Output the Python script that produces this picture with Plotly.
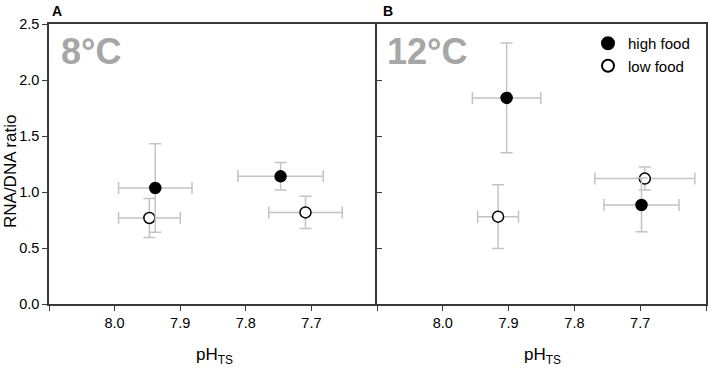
import plotly.graph_objects as go

# Panel A (8°C)
ph_A_high = [7.938, 7.747]
rd_A_high = [1.036, 1.14]
ey_A_high = [0.395, 0.123]
ex_A_high = [0.056, 0.065]

ph_A_low = [7.947, 7.709]
rd_A_low = [0.768, 0.818]
ey_A_low = [0.175, 0.145]
ex_A_low = [0.047, 0.056]

# Panel B (12°C)
ph_B_high = [7.903, 7.698]
rd_B_high = [1.84, 0.884]
ey_B_high = [0.49, 0.24]
ex_B_high = [0.052, 0.057]

ph_B_low = [7.916, 7.693]
rd_B_low = [0.78, 1.12]
ey_B_low = [0.285, 0.103]
ex_B_low = [0.031, 0.076]

x_tickvals = [8.1, 8.0, 7.9, 7.8, 7.7, 7.6]
x_ticktext = ["", "8.0", "7.9", "7.8", "7.7", ""]
y_tickvals = [0.0, 0.5, 1.0, 1.5, 2.0, 2.5]
y_ticktext = ["0.0", "0.5", "1.0", "1.5", "2.0", "2.5"]

FONT = "Liberation Sans, Arial, sans-serif"
ERRC = "#c4c4c4"
FRAME = "#3a3a3a"

L, R, T, B = 49, 4, 24, 64
W, H = 710, 368
PW, PH = W - L - R, H - T - B
SPLIT = 328 / PW


def px(x):
    return (x - L) / PW


def py(y):
    return (H - B - y) / PH


def err(arr):
    return dict(type="data", array=arr, visible=True, color=ERRC, thickness=1.5, width=6)


fig = go.Figure()


def add(ph, rd, ex, ey, filled, xa, ya, name, show):
    fig.add_trace(go.Scatter(
        x=ph, y=rd, mode="markers", name=name, showlegend=show,
        xaxis=xa, yaxis=ya,
        error_x=err(ex), error_y=err(ey),
        marker=dict(size=11, symbol="circle",
                    color="black" if filled else "white",
                    line=dict(color="black", width=1.5)),
    ))


add(ph_A_low, rd_A_low, ex_A_low, ey_A_low, False, "x", "y", "low food", False)
add(ph_A_high, rd_A_high, ex_A_high, ey_A_high, True, "x", "y", "high food", False)
add(ph_B_low, rd_B_low, ex_B_low, ey_B_low, False, "x2", "y2", "low food", True)
add(ph_B_high, rd_B_high, ex_B_high, ey_B_high, True, "x2", "y2", "high food", True)

xcommon = dict(range=[8.1, 7.6], tickmode="array", tickvals=x_tickvals, ticktext=x_ticktext,
               ticks="outside", ticklen=5, tickwidth=1.2, tickcolor=FRAME, showline=True,
               linecolor=FRAME, linewidth=1.5, mirror=True, showgrid=False, zeroline=False,
               automargin=False,
               tickfont=dict(size=14.5, color="black", family=FONT))
ycommon = dict(range=[0, 2.5], tickmode="array", tickvals=y_tickvals, ticktext=y_ticktext,
               ticklen=5, tickwidth=1.2, tickcolor=FRAME, showline=True, linecolor=FRAME,
               linewidth=1.5, showgrid=False, zeroline=False, automargin=False,
               tickfont=dict(size=14.5, color="black", family=FONT))

ann = [
    dict(text="8°C", x=px(59), y=py(51), xanchor="left", yanchor="middle",
         font=dict(size=36, color="#a6a6a6", family=FONT, weight="bold")),
    dict(text="12°C", x=px(385), y=py(51), xanchor="left", yanchor="middle",
         font=dict(size=36, color="#a6a6a6", family=FONT, weight="bold")),
    dict(text="A", x=px(56.5), y=py(11), xanchor="center", yanchor="middle",
         font=dict(size=14, color="black", family=FONT, weight="bold")),
    dict(text="B", x=px(388), y=py(11), xanchor="center", yanchor="middle",
         font=dict(size=14, color="black", family=FONT, weight="bold")),
    dict(text="RNA/DNA ratio", x=px(10), y=py(172), xanchor="center", yanchor="middle",
         textangle=-90, font=dict(size=17, color="black", family=FONT)),
    dict(text="pH<sub>TS</sub>", x=px(214), y=py(356), xanchor="center", yanchor="middle",
         font=dict(size=17, color="black", family=FONT)),
    dict(text="pH<sub>TS</sub>", x=px(542), y=py(356), xanchor="center", yanchor="middle",
         font=dict(size=17, color="black", family=FONT)),
]
for a in ann:
    a.update(xref="paper", yref="paper", showarrow=False)

fig.update_layout(
    width=W, height=H,
    margin=dict(l=L, r=R, t=T, b=B),
    paper_bgcolor="white", plot_bgcolor="white",
    font=dict(family=FONT, size=14, color="black"),
    xaxis=dict(domain=[0, SPLIT], anchor="y", **xcommon),
    xaxis2=dict(domain=[SPLIT, 1], anchor="y2", **xcommon),
    yaxis=dict(domain=[0, 1], anchor="x", ticks="outside", mirror=False, **ycommon),
    yaxis2=dict(domain=[0, 1], anchor="x2", ticks="inside", showticklabels=False,
                mirror=True, **ycommon),
    legend=dict(x=px(588), y=py(27), xanchor="left", yanchor="top", bgcolor="rgba(0,0,0,0)",
                font=dict(size=15, family=FONT, color="black"), itemsizing="constant",
                tracegroupgap=0, traceorder="reversed"),
    annotations=ann,
)

fig.write_html("out.html",
               config={"displayModeBar": False},
               post_script="document.body.style.margin='0';document.body.style.padding='0';"
                           "document.body.style.overflow='hidden';")
